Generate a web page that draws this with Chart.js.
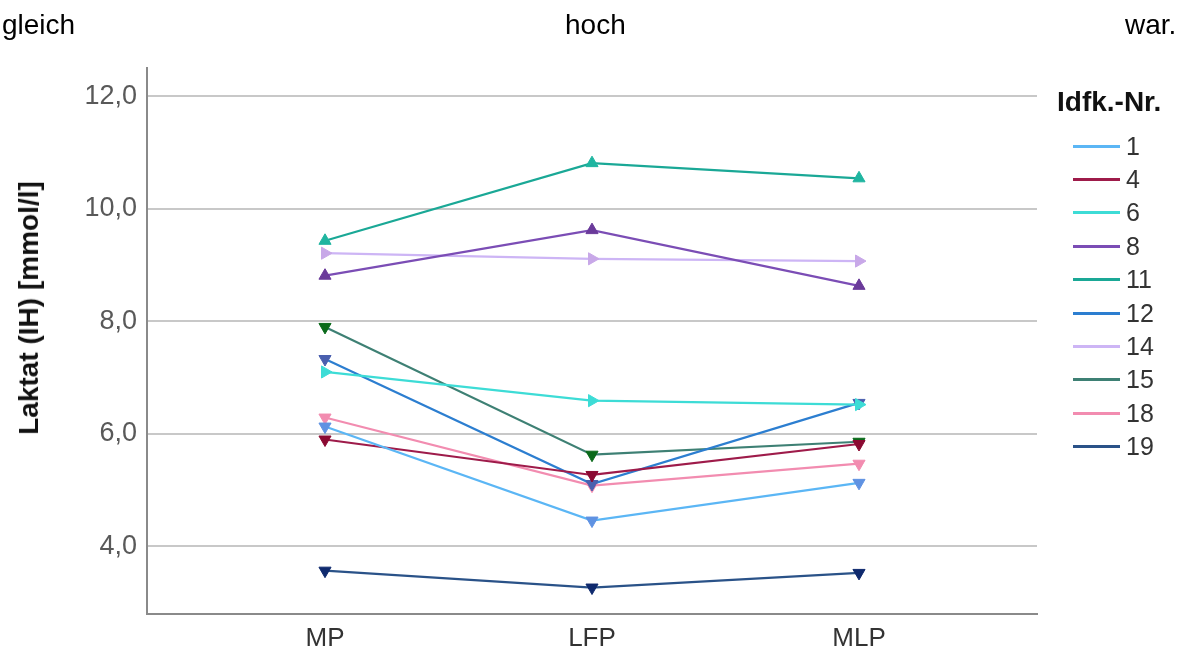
<!DOCTYPE html>
<html>
<head>
<meta charset="utf-8">
<script src="https://cdn.jsdelivr.net/npm/chart.js@4"></script>
<style>
  html, body { margin:0; padding:0; background:#fff; }
  #wrap { position:relative; width:1179px; height:654px; overflow:hidden; font-family:"Liberation Sans", Arial, sans-serif; }
  canvas { position:absolute; left:0; top:0; }
  .top { position:absolute; top:8px; font-size:28px; color:#000; line-height:34px; }
  #ytitle { position:absolute; left:29px; top:308px; transform:translate(-50%,-50%) rotate(-90deg); white-space:nowrap; font-weight:bold; font-size:28px; color:#111; }
  #legtitle { position:absolute; left:1057px; top:86px; font-weight:bold; font-size:28px; color:#111; }
  .lg { position:absolute; left:1073px; height:34px; display:flex; align-items:center; }
  .lg .ln { width:47px; height:3px; }
  .lg span { margin-left:6px; font-size:25px; color:#333; }
</style>
</head>
<body>
<div id="wrap">
  <canvas id="c" width="1179" height="654"></canvas>
  <div class="top" style="left:2px">gleich</div>
  <div class="top" style="left:565px">hoch</div>
  <div class="top" style="left:1125px">war.</div>
  <div id="ytitle">Laktat (IH) [mmol/l]</div>
  <div id="legtitle">Idfk.-Nr.</div>
  <div id="legend"></div>
</div>
<script>
const categories = ['MP', 'LFP', 'MLP'];
const ids = ['1', '4', '6', '8', '11', '12', '14', '15', '18', '19'];
const s1  = [6.13, 4.46, 5.13];
const s4  = [5.90, 5.27, 5.82];
const s6  = [7.10, 6.59, 6.52];
const s8  = [8.81, 9.62, 8.63];
const s11 = [9.43, 10.81, 10.54];
const s12 = [7.33, 5.11, 6.55];
const s14 = [9.21, 9.11, 9.07];
const s15 = [7.90, 5.63, 5.86];
const s18 = [6.29, 5.08, 5.47];
const s19 = [3.57, 3.27, 3.53];
const yTicks = [4, 6, 8, 10, 12];

const seriesValues = [s1, s4, s6, s8, s11, s12, s14, s15, s18, s19];
const lineColors   = ['#5bb6f5','#9e1b4a','#3ddcd6','#7b4db5','#1aa896','#2c7ed0','#cdb5f5','#3e8074','#f28cb0','#2a5288'];
const markColors   = ['#5f92e2','#8b0a32','#3ddcd6','#6a3a9a','#1fb5a0','#4a5fae','#c8a8e8','#0a6a1a','#f28cb0','#0f2a6e'];
const markRot      = [180, 180, 90, 0, 0, 180, 90, 180, 180, 180];

const datasets = seriesValues.map((vals, i) => ({
  label: ids[i],
  data: vals.map((v, j) => ({ x: j, y: v })),
  borderColor: lineColors[i],
  backgroundColor: markColors[i],
  pointBackgroundColor: markColors[i],
  pointBorderColor: markColors[i],
  pointBorderWidth: 1,
  borderWidth: 2.2,
  pointStyle: 'triangle',
  pointRotation: markRot[i],
  pointRadius: 7,
  tension: 0
}));

// HTML legend
const leg = document.getElementById('legend');
ids.forEach((id, i) => {
  const d = document.createElement('div');
  d.className = 'lg';
  d.style.top = (146 + i * 33.4 - 17) + 'px';
  d.innerHTML = '<div class="ln" style="background:' + lineColors[i] + '"></div><span>' + id + '</span>';
  leg.appendChild(d);
});

new Chart(document.getElementById('c'), {
  type: 'line',
  data: { datasets },
  options: {
    responsive: false,
    animation: false,
    layout: { padding: { left: 0, right: 142, top: 68, bottom: 0 } },
    plugins: { legend: { display: false }, tooltip: { enabled: false } },
    scales: {
      x: {
        type: 'linear',
        min: -2/3, max: 8/3,
        afterBuildTicks: s => { s.ticks = categories.map((c, i) => ({ value: i })); },
        afterFit: s => { s.height = 40; },
        ticks: {
          callback: v => categories[v],
          font: { family: 'Liberation Sans', size: 26 },
          color: '#333',
          padding: 9,
          maxRotation: 0, autoSkip: false
        },
        grid: { display: false, drawTicks: false },
        border: { display: true, color: '#8a8a8a', width: 2 }
      },
      y: {
        min: 2.8, max: 12.5,
        afterBuildTicks: s => { s.ticks = yTicks.map(v => ({ value: v })); },
        afterFit: s => { s.width = 147; },
        ticks: {
          callback: v => v.toFixed(1).replace('.', ','),
          font: { family: 'Liberation Sans', size: 27 },
          color: '#595959',
          padding: 10
        },
        grid: { color: '#c8c8c8', lineWidth: 2, drawTicks: false },
        border: { display: true, color: '#8a8a8a', width: 2 }
      }
    }
  }
});
</script>
</body>
</html>
